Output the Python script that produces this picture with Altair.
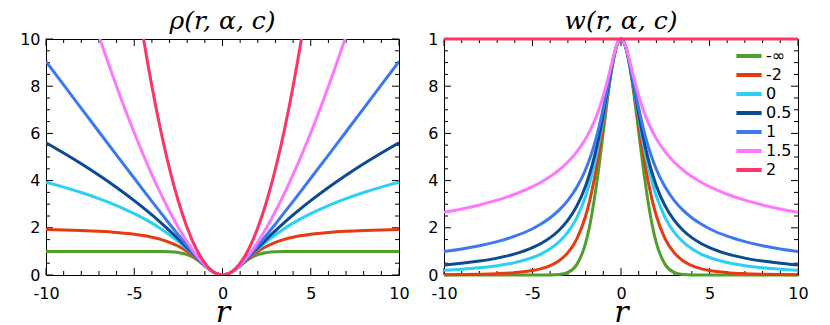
import altair as alt
import pandas as pd

# sample positions (r >= 0); the curves are symmetric about r = 0
R_HALF = [0, 0.25, 0.5, 0.75, 1, 1.25, 1.5, 1.75, 2, 2.5, 3, 3.5, 4, 4.5, 5, 6, 7, 8, 9, 10]

ALPHAS = ["-∞", "-2", "0", "0.5", "1", "1.5", "2"]
COLORS = ["#4f9f2c", "#e63a10", "#2bd0f5", "#0c4a92", "#3c78f0", "#ff77ff", "#ff3366"]

# rho(r, alpha, c) read at R_HALF
RHO_NINF = [0, 0.0308, 0.1175, 0.2452, 0.3935, 0.5422, 0.6753, 0.7837, 0.8647, 0.9561, 0.9889, 0.9978, 0.9997, 1.0, 1.0, 1.0, 1.0, 1.0, 1.0, 1.0]
RHO_M2 = [0, 0.0308, 0.1176, 0.2466, 0.4, 0.5618, 0.72, 0.8673, 1.0, 1.2195, 1.3846, 1.5077, 1.6, 1.6701, 1.7241, 1.8, 1.8491, 1.8824, 1.9059, 1.9231]
RHO_0 = [0, 0.0308, 0.1178, 0.2478, 0.4055, 0.5773, 0.7538, 0.9287, 1.0986, 1.4171, 1.7047, 1.9636, 2.1972, 2.4092, 2.6027, 2.9444, 3.2387, 3.4965, 3.7257, 3.9318]
RHO_05 = [0, 0.0308, 0.1179, 0.2486, 0.4087, 0.5861, 0.7723, 0.9619, 1.1513, 1.5229, 1.8797, 2.2201, 2.5444, 2.8541, 3.1505, 3.7082, 4.2262, 4.7117, 5.1698, 5.6043]
RHO_1 = [0, 0.0308, 0.1180, 0.25, 0.4142, 0.6008, 0.8028, 1.0156, 1.2361, 1.6926, 2.1623, 2.6401, 3.1231, 3.6098, 4.0990, 5.0828, 6.0711, 7.0623, 8.0554, 9.0499]
RHO_15 = [0, 0.0308, 0.1185, 0.2533, 0.4265, 0.6315, 0.8638, 1.1204, 1.3987, 2.0143, 2.7002, 3.4492, 4.2561, 5.1169, 6.0281, 7.9914, 10.128, 12.426, 14.873, 17.461]
RHO_2 = [0, 0.0313, 0.125, 0.2813, 0.5, 0.7813, 1.125, 1.5313, 2, 3.125, 4.5, 6.125, 8, 10.125, 12.5, 18, 24.5, 32, 40.5, 50]

# w(r, alpha, c) read at R_HALF
W_NINF = [1, 0.9692, 0.8825, 0.7548, 0.6065, 0.4578, 0.3247, 0.2163, 0.1353, 0.0439, 0.0111, 0.0022, 0.0003, 0.0, 0.0, 0, 0, 0, 0, 0]
W_M2 = [1, 0.9695, 0.8858, 0.7686, 0.64, 0.5171, 0.4096, 0.3208, 0.25, 0.1523, 0.0947, 0.0606, 0.04, 0.0272, 0.0190, 0.01, 0.0057, 0.0035, 0.0022, 0.0015]
W_0 = [1, 0.9697, 0.8889, 0.7805, 0.6667, 0.5614, 0.4706, 0.3951, 0.3333, 0.2424, 0.1818, 0.1404, 0.1111, 0.0899, 0.0741, 0.0526, 0.0392, 0.0303, 0.0241, 0.0196]
W_05 = [1, 0.9699, 0.8908, 0.7875, 0.6817, 0.5855, 0.5030, 0.4342, 0.3774, 0.2918, 0.2324, 0.1898, 0.1584, 0.1346, 0.1161, 0.0894, 0.0716, 0.0589, 0.0495, 0.0424]
W_1 = [1, 0.9701, 0.8944, 0.8, 0.7071, 0.6247, 0.5547, 0.4961, 0.4472, 0.3714, 0.3162, 0.2747, 0.2425, 0.2169, 0.1961, 0.1644, 0.1414, 0.1240, 0.1104, 0.0995]
W_15 = [1, 0.9710, 0.9036, 0.8283, 0.7598, 0.7017, 0.6530, 0.6121, 0.5774, 0.5217, 0.4790, 0.4450, 0.4172, 0.3940, 0.3742, 0.3421, 0.3170, 0.2967, 0.2799, 0.2656]
W_2 = [1, 1, 1, 1, 1, 1, 1, 1, 1, 1, 1, 1, 1, 1, 1, 1, 1, 1, 1, 1]

X_MAJOR = [-10, -5, 0, 5, 10]
X_MINOR = [-9, -8, -7, -6, -4, -3, -2, -1, 1, 2, 3, 4, 6, 7, 8, 9]
YL_MAJOR = [0, 2, 4, 6, 8, 10]
YL_MINOR = [0.5, 1, 1.5, 2.5, 3, 3.5, 4.5, 5, 5.5, 6.5, 7, 7.5, 8.5, 9, 9.5]
YR_MAJOR = [0, 0.2, 0.4, 0.6, 0.8, 1]
YR_MINOR = [0.05, 0.1, 0.15, 0.25, 0.3, 0.35, 0.45, 0.5, 0.55, 0.65, 0.7, 0.75, 0.85, 0.9, 0.95]

RHO = [RHO_NINF, RHO_M2, RHO_0, RHO_05, RHO_1, RHO_15, RHO_2]
WTS = [W_NINF, W_M2, W_0, W_05, W_1, W_15, W_2]

R_FULL = [-v for v in R_HALF[:0:-1]] + R_HALF


def long_df(series):
    rows = []
    for k, (a, half) in enumerate(zip(ALPHAS, series)):
        vals = list(half[:0:-1]) + list(half)
        for r, v in zip(R_FULL, vals):
            rows.append({"r": r, "v": v, "alpha": a, "k": k})
    return pd.DataFrame(rows)


H = 236
MAJ, MIN = 7, 4
SANS = "DejaVu Sans"
SERIF = "DejaVu Serif"


def panel(df, width, ydom, ymaj, ymin, ylabel_expr, title, legend, clip):
    xs = alt.Scale(domain=[-10, 10], nice=False, zero=False)
    ys = alt.Scale(domain=ydom, nice=False, zero=False)
    xaxis = alt.Axis(values=X_MAJOR, ticks=False, domain=False, grid=False,
                     labelFont=SANS, labelFontSize=16, labelColor="black",
                     labelPadding=10, labelFlush=False, labelExpr="datum.value + ''",
                     title="r", titleFont=SERIF, titleFontStyle="italic",
                     titleFontWeight="normal", titleFontSize=30, titleColor="black",
                     titlePadding=-4)
    yaxis = alt.Axis(values=ymaj, ticks=False, domain=False, grid=False,
                     labelFont=SANS, labelFontSize=16, labelColor="black",
                     labelPadding=6, labelFlush=False, labelExpr=ylabel_expr, title=None)

    def xt(vals, top, ln):
        d = pd.DataFrame({"t": vals})
        y1 = 0 if top else H
        y2 = ln if top else H - ln
        return alt.Chart(d).mark_rule(color="black", strokeWidth=1).encode(
            x=alt.X("t:Q", scale=xs, axis=xaxis), y=alt.value(y1), y2=alt.value(y2))

    def yt(vals, right, ln):
        d = pd.DataFrame({"t": vals})
        x1 = width if right else 0
        x2 = width - ln if right else ln
        return alt.Chart(d).mark_rule(color="black", strokeWidth=1).encode(
            y=alt.Y("t:Q", scale=ys, axis=yaxis), x=alt.value(x1), x2=alt.value(x2))

    ticks = [xt(X_MAJOR, False, MAJ), xt(X_MINOR, False, MIN),
             xt(X_MAJOR, True, MAJ), xt(X_MINOR, True, MIN),
             yt(ymaj, False, MAJ), yt(ymin, False, MIN),
             yt(ymaj, True, MAJ), yt(ymin, True, MIN)]

    lines = alt.Chart(df).mark_line(strokeWidth=3, clip=clip, interpolate="monotone").encode(
        x=alt.X("r:Q", scale=xs, axis=xaxis),
        y=alt.Y("v:Q", scale=ys, axis=yaxis),
        color=alt.Color("alpha:N", sort=ALPHAS,
                        scale=alt.Scale(domain=ALPHAS, range=COLORS), legend=legend),
        order=alt.Order("k:Q"),
    )
    return alt.layer(*ticks, lines).properties(
        width=width, height=H,
        title=alt.TitleParams(title, font=SERIF, fontStyle="italic", fontSize=25,
                              fontWeight="normal", anchor="middle", color="black",
                              offset=-3))


legend = alt.Legend(orient="top-right", title=None, symbolType="M-1.4,0H1.4",
                    symbolStrokeWidth=4, symbolSize=324, labelFont=SANS,
                    labelFontSize=16, labelColor="black", offset=6, padding=0,
                    rowPadding=0, labelOffset=6)

left = panel(long_df(RHO), 353, [0, 10], YL_MAJOR, YL_MINOR, "datum.value + ''",
             "ρ(r, α, c)", None, True)
right = panel(long_df(WTS), 354, [0, 1], YR_MAJOR, YR_MINOR,
              "datum.value == 1 ? '1' : substring(format(datum.value, '.1f'), 2)",
              "w(r, α, c)", legend, False)

chart = alt.hconcat(left, right, spacing=17).resolve_legend(
    color="independent").configure(
    padding={"left": 11, "top": 0, "right": 5, "bottom": 0}
).configure_view(stroke="black", strokeWidth=1)

chart.save("out.html", embed_options={"renderer": "svg", "actions": False})
